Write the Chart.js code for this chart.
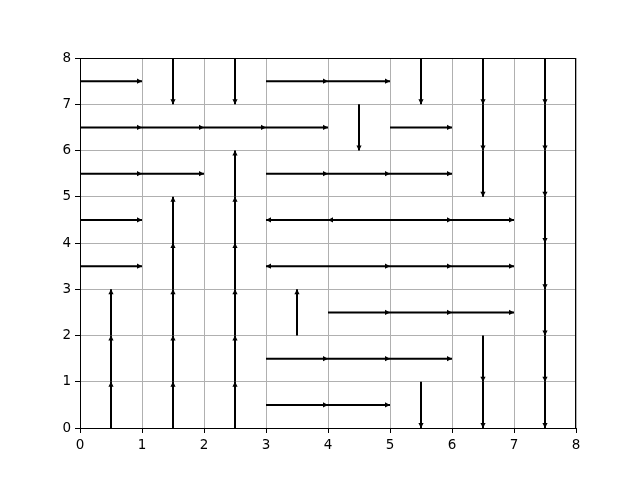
<!DOCTYPE html>
<html>
<head>
<meta charset="utf-8">
<script src="https://cdn.jsdelivr.net/npm/chart.js@4"></script>
<style>
  body { margin: 0; background: #fff; }
  canvas { display: block; }
</style>
</head>
<body>
<canvas id="graph" width="640" height="480"></canvas>
<script>
// one arrow per cell, rows read from the top (y = 7..8) down to the bottom (y = 0..1)
// R = right, L = left, U = up, D = down
const policyRows = [
  'RDDRRDDD',
  'RRRRDRDD',
  'RRURRRDD',
  'RUULLRRD',
  'RUULRRRD',
  'UUUURRRD',
  'UUURRRDD',
  'UUURRDDD'
];
const gridSize = 8;
const xTicks = [0, 1, 2, 3, 4, 5, 6, 7, 8];
const yTicks = [0, 1, 2, 3, 4, 5, 6, 7, 8];

const moves = { R: [1, 0], L: [-1, 0], U: [0, 1], D: [0, -1] };

// each arrow is centred on its cell and is one cell long
const datasets = [];
policyRows.forEach((row, r) => {
  const cy = gridSize - r - 0.5;
  row.split('').forEach((d, c) => {
    const cx = c + 0.5;
    const [u, v] = moves[d];
    datasets.push({
      data: [{ x: cx - u / 2, y: cy - v / 2 }, { x: cx + u / 2, y: cy + v / 2 }],
      showLine: true,
      borderColor: '#000',
      borderWidth: 2,
      pointRadius: 0,
      pointHoverRadius: 0,
      clip: false
    });
  });
});

// top and right spines like matplotlib
const frame = {
  id: 'frame',
  beforeDatasetsDraw(chart) {
    const { ctx, chartArea: a } = chart;
    ctx.save();
    ctx.strokeStyle = '#000';
    ctx.lineWidth = 1;
    ctx.strokeRect(a.left + 0.5, a.top + 0.5, a.right - a.left - 1, a.bottom - a.top);
    ctx.restore();
  }
};

// draw a head at the end of every line
const arrowHeads = {
  id: 'arrowHeads',
  afterDatasetsDraw(chart) {
    const ctx = chart.ctx;
    ctx.save();
    ctx.fillStyle = '#000';
    chart.data.datasets.forEach((ds, i) => {
      const pts = chart.getDatasetMeta(i).data;
      const p0 = pts[0], p1 = pts[1];
      const dx = p1.x - p0.x, dy = p1.y - p0.y;
      const len = Math.hypot(dx, dy);
      const ux = dx / len, uy = dy / len;
      const hl = 5, hw = 2.6;
      ctx.beginPath();
      ctx.moveTo(p1.x, p1.y);
      ctx.lineTo(p1.x - ux * hl - uy * hw, p1.y - uy * hl + ux * hw);
      ctx.lineTo(p1.x - ux * hl + uy * hw, p1.y - uy * hl - ux * hw);
      ctx.closePath();
      ctx.fill();
    });
    ctx.restore();
  }
};

const tickFont = { family: 'DejaVu Sans', size: 13.5 };

new Chart(document.getElementById('graph'), {
  type: 'scatter',
  data: { datasets: datasets },
  options: {
    responsive: false,
    animation: false,
    events: [],
    layout: { padding: { top: 58, right: 64, left: 0, bottom: 0 } },
    plugins: { legend: { display: false }, tooltip: { enabled: false } },
    scales: {
      x: {
        type: 'linear',
        min: 0,
        max: gridSize,
        afterFit(scale) { scale.height = 52; },
        afterBuildTicks(scale) { scale.ticks = xTicks.map(v => ({ value: v })); },
        ticks: { color: '#000', font: tickFont, padding: 4 },
        grid: { color: '#b0b0b0', lineWidth: 1, tickColor: '#000', tickLength: 5 },
        border: { display: true, color: '#000', width: 1 }
      },
      y: {
        type: 'linear',
        min: 0,
        max: gridSize,
        afterFit(scale) { scale.width = 80; },
        afterBuildTicks(scale) { scale.ticks = yTicks.map(v => ({ value: v })); },
        ticks: { color: '#000', font: tickFont, padding: 4 },
        grid: { color: '#b0b0b0', lineWidth: 1, tickColor: '#000', tickLength: 5 },
        border: { display: true, color: '#000', width: 1 }
      }
    }
  },
  plugins: [frame, arrowHeads]
});
</script>
</body>
</html>
